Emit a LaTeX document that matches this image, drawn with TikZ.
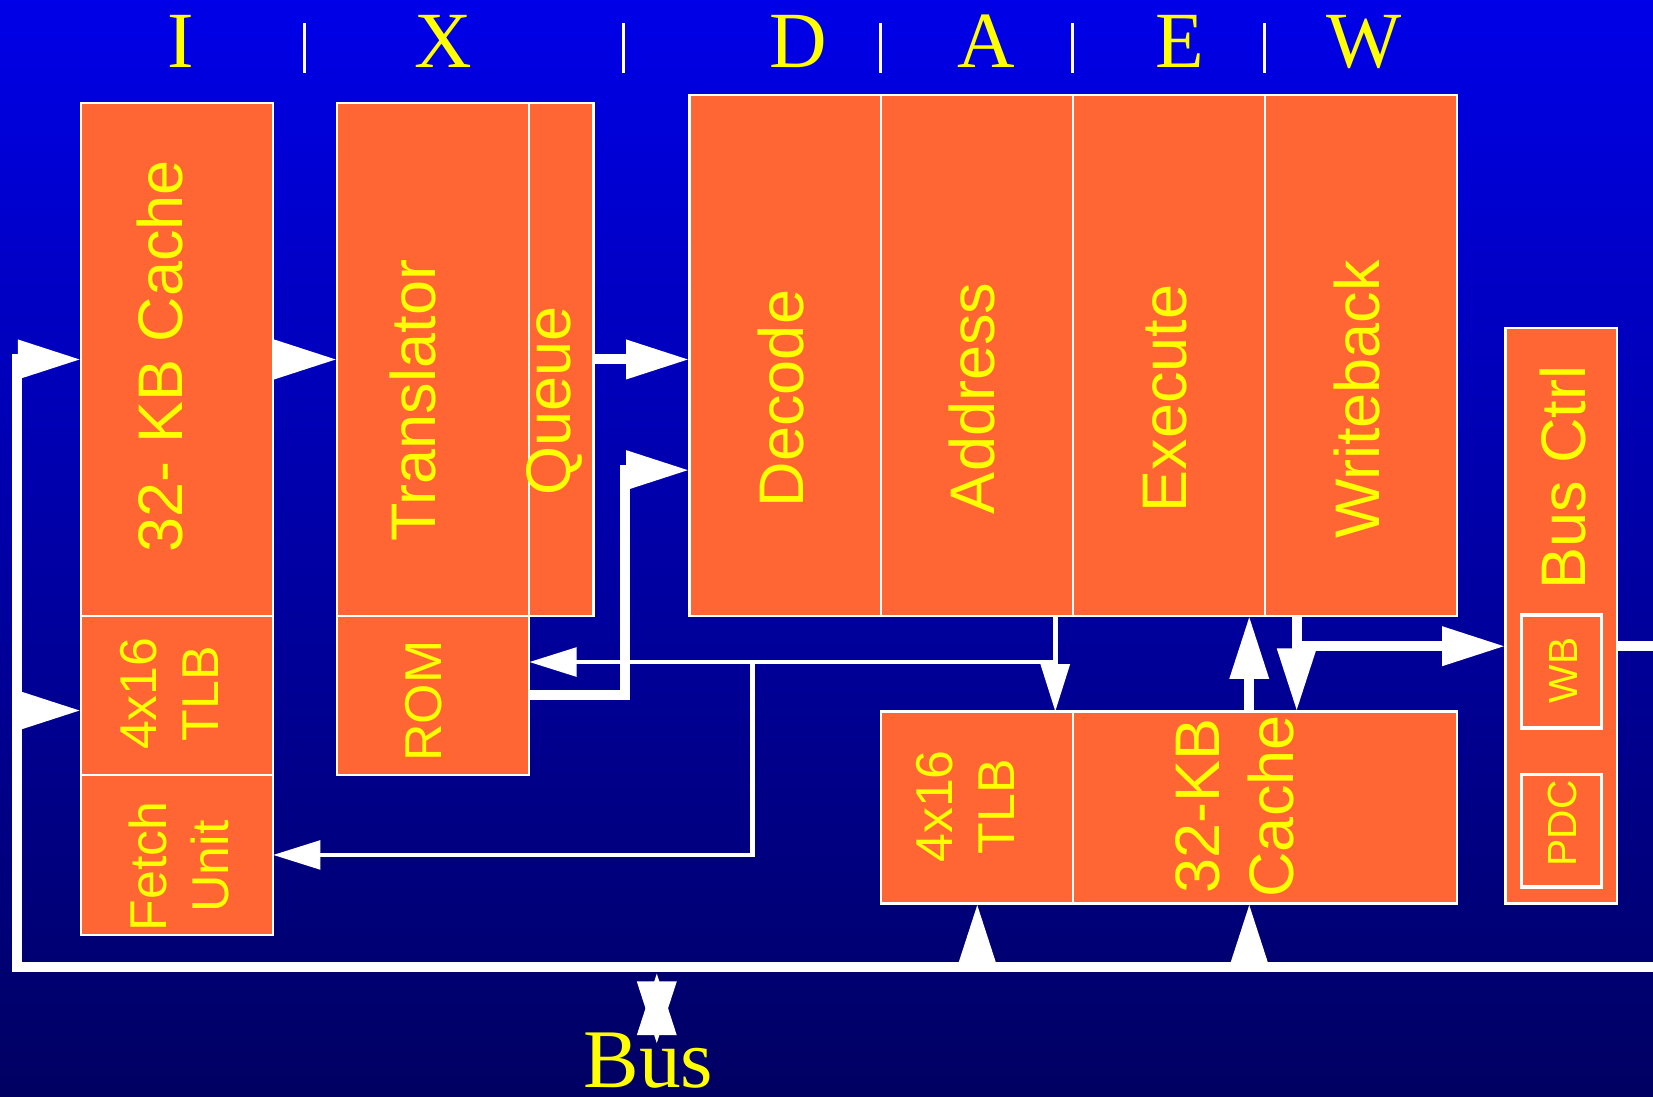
\documentclass[tikz,border=0pt]{standalone}
\usepackage{fontspec}
\setmainfont{Liberation Serif}
\setsansfont{Liberation Sans}
\usepackage{xcolor}
\definecolor{bgtop}{HTML}{0000E8}
\definecolor{bgbot}{HTML}{000062}
\definecolor{unitfill}{HTML}{FF6633}
\definecolor{labelyel}{HTML}{FFFF00}
\usetikzlibrary{arrows.meta, positioning}

\begin{document}
\begin{tikzpicture}[
  unit/.style={
    draw=white, fill=unitfill, line width=0.6pt,
    inner sep=0pt, outer sep=0pt
  },
  col/.style={unit, minimum width=1.82cm},
  sub/.style={unit, line width=0.9pt, minimum width=0.76cm, minimum height=1.07cm},
  lbl/.style={rotate=90, text=labelyel, align=center, inner sep=0pt,
    font=\sffamily\fontsize{17}{20}\selectfont},
  lblsm/.style={lbl, font=\sffamily\fontsize{14}{16.8}\selectfont},
  lblxs/.style={lbl, font=\sffamily\fontsize{11}{13}\selectfont},
  stage/.style={text=labelyel, inner sep=0pt, anchor=base,
    font=\fontsize{21.5}{24}\selectfont},
  wire/.style={white, line width=2.7pt},
  fine/.style={white, line width=1.2pt},
  arr/.style={wire, -{Triangle[length=6mm, width=3.5mm]}},
  farr/.style={fine, -{Triangle[length=4.5mm, width=2.7mm]}}
]
  \fill[top color=bgtop, bottom color=bgbot] (0,0) rectangle (15.68,10.40);
  \useasboundingbox (0,0) rectangle (15.68,10.40);

  % pipeline stages
  \foreach \s/\x in {I/1.71, X/4.20, D/7.57, A/9.36, E/11.19, W/12.94}
    \node[stage] (st-\s) at (\x,9.76) {\s};
  \foreach \x in {2.89, 5.91, 8.35, 10.17, 11.99}
    \draw[white, line width=0.8pt] (\x,9.71) -- (\x,10.18);

  % fetch side
  \node[col, minimum height=4.86cm] (icache) at (1.68,6.99) {};
  \node[col, minimum height=1.51cm, below=0pt of icache] (itlb) {};
  \node[col, minimum height=1.52cm, below=0pt of itlb] (fetch) {};
  \node[col, minimum height=4.86cm] (trans) at (4.11,6.99) {};
  \node[unit, minimum width=0.61cm, minimum height=4.86cm, right=0pt of trans] (queue) {};
  \node[col, minimum height=1.51cm, below=0pt of trans] (rom) {};

  % main pipe
  \node[col, minimum height=4.94cm] (dec) at (7.45,7.03) {};
  \node[col, minimum height=4.94cm, right=0pt of dec] (addr) {};
  \node[col, minimum height=4.94cm, right=0pt of addr] (exe) {};
  \node[col, minimum height=4.94cm, right=0pt of exe] (wbk) {};

  % data side
  \node[col, minimum height=1.82cm] (dtlb) at (9.27,2.74) {};
  \node[unit, minimum width=3.64cm, minimum height=1.82cm, right=0pt of dtlb] (dcache) {};
  \node[unit, minimum width=1.06cm, minimum height=5.46cm] (busctl) at (14.81,4.56) {};
  \node[sub] (wbuf) at (14.81,4.03) {};
  \node[sub] (pdc) at (14.81,2.52) {};

  % labels
  \node[lbl] (icache-t) at (1.52,7.02) {32- KB Cache};
  \node[lblsm] (itlb-t) at (1.61,3.82) {4x16\\TLB};
  \node[lblsm] (fetch-t) at (1.70,2.18) {Fetch\\Unit};
  \node[lbl] (trans-t) at (3.92,6.60) {Translator};
  \node[lbl] (queue-t) at (5.26,6.60) {Queue};
  \node[lblsm] (rom-t) at (4.02,3.75) {ROM};
  \node[lbl] (dec-t) at (7.41,6.62) {Decode};
  \node[lbl] (addr-t) at (9.22,6.62) {Address};
  \node[lbl] (exe-t) at (11.05,6.62) {Execute};
  \node[lbl] (wbk-t) at (12.87,6.61) {Writeback};
  \node[lblsm] (dtlb-t) at (9.16,2.75) {4x16\\TLB};
  \node[lbl] (dcache-t) at (11.71,2.75) {32-KB\\Cache};
  \node[lbl] (busctl-t) at (14.83,5.87) {Bus Ctrl};
  \node[lblxs] (wbuf-t) at (14.83,4.04) {WB};
  \node[lblxs] (pdc-t) at (14.82,2.59) {PDC};
  \node[stage, font=\fontsize{22.5}{24}\selectfont] (buslbl) at (6.15,0.08) {Bus};

  \coordinate (lp) at (0.16,1.23);
  \coordinate (rp) at (15.68,1.23);
  \coordinate (t1) at (0.16,3.66);
  \coordinate (r1) at (5.93,5.94);
  \coordinate (aj) at (10.01,4.12);
  \coordinate (fj) at (7.14,4.12);
  \coordinate (wj) at (12.30,4.27);
  \coordinate (cx) at (11.85,1.23);
  \coordinate (bm) at (6.23,1.18);
  \coordinate (bm2) at (6.23,0.49);

  % bus and loop back
  \draw[arr] (rp) -- (lp) -- (lp |- icache.west) -- (icache.west);
  \draw[arr] (t1) -- (t1 -| itlb.west);
  \draw[arr] (dtlb.south |- lp) -- (dtlb.south);
  \draw[arr] (cx) -- (cx |- dcache.south);
  \draw[wire, {Triangle[length=6mm, width=3.5mm]}-{Triangle[length=6mm, width=3.5mm]}]
    (bm) -- (bm2);

  % instruction flow
  \draw[arr] (icache.east) -- (trans.west);
  \draw[arr] (queue.east) -- (queue.east -| dec.west);
  \draw[arr] (rom.east) -| (r1) -- (r1 -| dec.west);

  % address feedback
  \draw[farr] (addr.south -| aj) -- (aj |- dtlb.north);
  \draw[farr] (aj) -- (aj -| rom.east);
  \draw[farr] (fj) |- (fetch.east);

  % data paths
  \draw[arr] (cx |- dcache.north) -- (cx |- exe.south);
  \draw[arr] (wbk.south -| wj) -- (wj) -- (wj -| busctl.west);
  \draw[arr] (wj) -- (wj |- dcache.north);
  \draw[wire] (busctl.east |- wj) -- (rp |- wj);
\end{tikzpicture}
\end{document}
